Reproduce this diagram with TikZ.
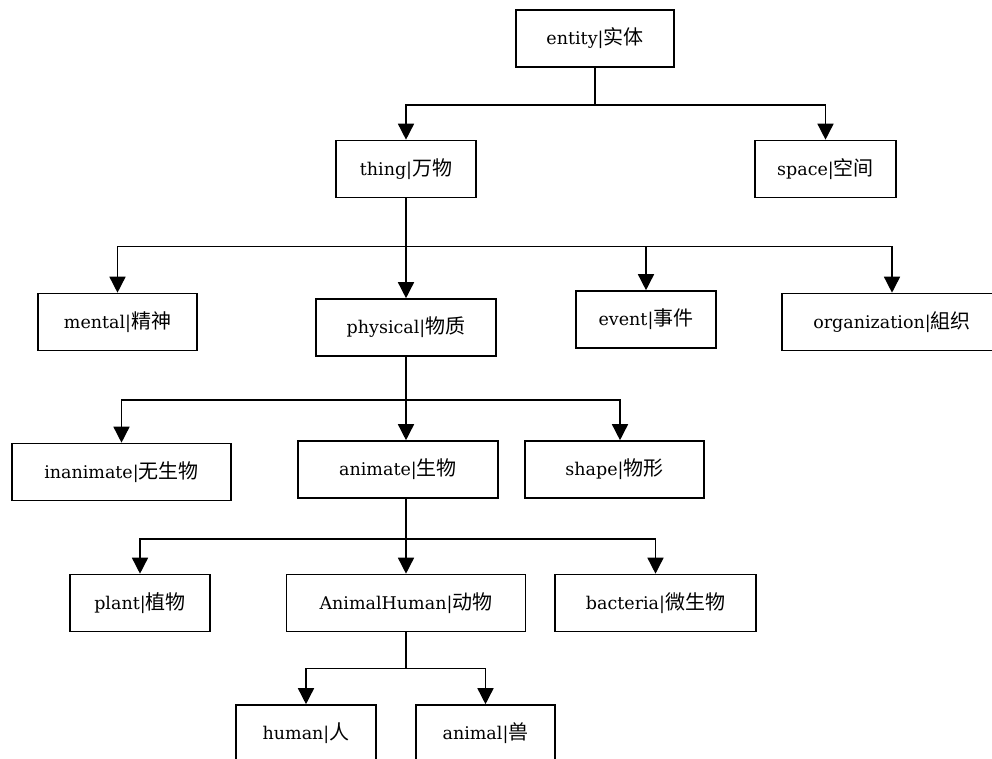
\documentclass[tikz,border=0pt]{standalone}
\usepackage{fontspec}
\setmainfont{DejaVu Serif}
\newfontfamily\cjk{Noto Sans CJK SC}
\usepackage{tikz}
\usetikzlibrary{arrows.meta, positioning}

\newcommand{\zh}[1]{{\cjk\fontsize{20}{22}\selectfont #1}}

\tikzset{
    box/.style={draw, line width=1.6pt, minimum height=57pt, inner sep=0pt,
        font=\fontsize{17.5}{20}\selectfont},
    link/.style={line width=1.5pt},
    arr/.style={link, -{Triangle[width=16pt, length=16pt]}},
}

\begin{document}
\begin{tikzpicture}[x=1pt, y=-1pt]
        \useasboundingbox (0,0) rectangle (992,758);
        \fill[white] (0,0) rectangle (992,758);
        \clip (0,0) rectangle (992,758);
        % level 0 and 1
        \node[box, minimum width=158pt] (entity) at (595, 38.5) {entity|\zh{实体}};
        \node[box, minimum width=140pt] (thing) at (406, 169) {thing|\zh{万物}};
        \node[box, minimum width=141pt] (space) at (825.5, 169) {space|\zh{空间}};
        % level 2
        \node[box, minimum width=159pt] (mental) at (117.5, 322) {mental|\zh{精神}};
        \node[box, minimum width=180pt] (physical) at (406, 327.5) {physical|\zh{物质}};
        \node[box, minimum width=140pt] (event) at (646, 319.5) {event|\zh{事件}};
        \node[box, minimum width=220pt] (organization) at (892, 322) {organization|\zh{組织}};
        % level 3
        \node[box, minimum width=219pt] (inanimate) at (121.5, 472) {inanimate|\zh{无生物}};
        \node[box, minimum width=200pt] (animate) at (398, 469.5) {animate|\zh{生物}};
        \node[box, minimum width=179pt] (shape) at (614.5, 469.5) {shape|\zh{物形}};
        % level 4
        \node[box, minimum width=140pt] (plant) at (140, 603) {plant|\zh{植物}};
        \node[box, minimum width=239pt] (animalhuman) at (406, 603) {AnimalHuman|\zh{动物}};
        \node[box, minimum width=201pt] (bacteria) at (655.5, 603) {bacteria|\zh{微生物}};
        % level 5
        \node[box, minimum width=140pt] (human) at (306, 733.5) {human|\zh{人}};
        \node[box, minimum width=139pt] (animal) at (485.5, 733.5) {animal|\zh{兽}};

        % connectors
        \draw[link] (entity.south) -- ++(0, 37) coordinate (busA);
        \foreach \c in {thing, space}
            \draw[arr] (busA) -| (\c.north);

        \draw[arr] (thing.south) -- (physical.north);
        \path (thing.south) ++(0, 48) coordinate (busB);
        \foreach \c in {mental, event, organization}
            \draw[arr] (busB) -| (\c.north);

        \draw[arr] (physical.south) -- (animate.north -| physical.south);
        \path (physical.south) ++(0, 43) coordinate (busC);
        \draw[arr] (busC) -| (inanimate.north);
        \draw[arr] (busC) -| ([xshift=5.5pt]shape.north);

        \draw[arr] (animate.south -| animalhuman.north) -- (animalhuman.north);
        \path (animate.south -| animalhuman.north) ++(0, 40) coordinate (busD);
        \foreach \c in {plant, bacteria}
            \draw[arr] (busD) -| (\c.north);

        \draw[link] (animalhuman.south) -- ++(0, 36) coordinate (busE);
        \foreach \c in {human, animal}
            \draw[arr] (busE) -| (\c.north);
    \end{tikzpicture}
\end{document}
